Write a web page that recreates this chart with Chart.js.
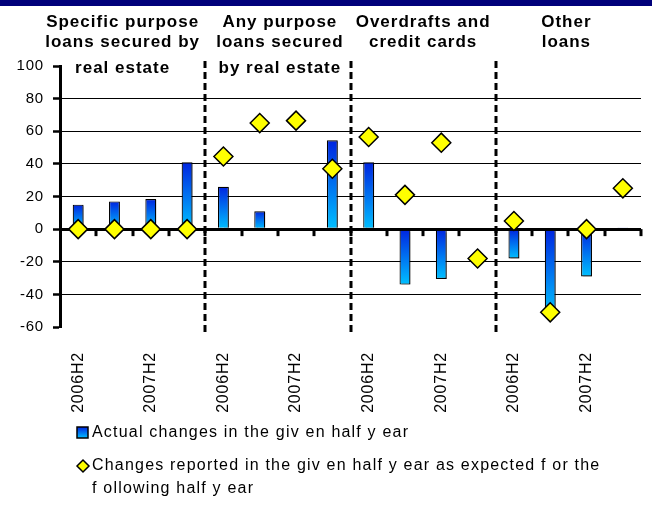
<!DOCTYPE html>
<html>
<head>
<meta charset="utf-8">
<script src="https://cdn.jsdelivr.net/npm/chart.js@4.4.0/dist/chart.umd.min.js"></script>
<style>
  html, body { margin: 0; padding: 0; background: #fff; }
  #wrap { width: 652px; height: 529px; position: relative; }
</style>
</head>
<body>
<div id="wrap"><canvas id="chart"></canvas></div>
<script>
// data
const periods = ['2006H2', '2007H1', '2007H2', '2008H1'];
const groupTitles = [
    ['Specific purpose', 'loans secured by', 'real estate'],
    ['Any purpose', 'loans secured', 'by real estate'],
    ['Overdrafts and', 'credit cards'],
    ['Other', 'loans']
];
const categories = groupTitles.flatMap(() => periods);
const actualChanges = [15, 17, 18.5, 41, 26, 11, null, 54.5, 41, -34, -30.5, null, -18, -52, -29, 1];
const expectedChanges = [0, 0, 0, 0, 44.5, 65, 66.5, 37, 56.5, 21, 53, -18, 5, -51, 0, 25];
const yTicks = [-60, -40, -20, 0, 20, 40, 60, 80, 100];
const seriesNames = [
    ['Actual changes in the giv en half y ear'],
    ['Changes reported in the giv en half y ear as expected f or the', 'f ollowing half y ear']
];

const FONT = '"Liberation Sans", Arial, sans-serif';
const darkBlue = '#0024e0';
const lightBlue = '#00c0ff';
const diamondYellow = '#ffff00';

function barGradient(ctx, top, bottom) {
    const g = ctx.createLinearGradient(0, top, 0, bottom);
    g.addColorStop(0, darkBlue);
    g.addColorStop(1, lightBlue);
    return g;
}

// header strip, separators, group titles, legend
const decor = {
    id: 'decor',
    beforeDraw(chart) {
        const ctx = chart.ctx;
        ctx.save();
        ctx.fillStyle = '#00007a';
        ctx.fillRect(0, 0, chart.width, 6);
        ctx.restore();
        // the original text is set a little wide
        ctx.letterSpacing = '0.8px';
    },
    beforeDatasetsDraw(chart) {
        const { ctx, chartArea } = chart;
        const x = chart.scales.x, y = chart.scales.y;
        const step = x.width / categories.length;
        const y0 = y.getPixelForValue(0);
        ctx.save();
        ctx.strokeStyle = '#000';
        // small ticks under the zero line
        ctx.lineWidth = 3;
        for (let i = 1; i <= categories.length; i++) {
            const px = Math.round(x.left + i * step);
            ctx.beginPath();
            ctx.moveTo(px, y0);
            ctx.lineTo(px, y0 + 7);
            ctx.stroke();
        }
        // dashed group separators
        ctx.setLineDash([7, 4]);
        for (let g = 1; g < groupTitles.length; g++) {
            const px = Math.round(x.left + g * periods.length * step);
            ctx.beginPath();
            ctx.moveTo(px, chartArea.top - 5);
            ctx.lineTo(px, chartArea.bottom + 6);
            ctx.stroke();
        }
        ctx.restore();
    },
    beforeDatasetDraw(chart, args) {
        if (args.index === 1) {
            const ctx = chart.ctx;
            ctx.shadowColor = 'rgba(0,0,0,0.35)';
            ctx.shadowOffsetX = 2;
            ctx.shadowOffsetY = 1;
            ctx.shadowBlur = 1;
        }
    },
    afterDatasetDraw(chart, args) {
        if (args.index === 1) {
            const ctx = chart.ctx;
            ctx.shadowColor = 'rgba(0,0,0,0)';
            ctx.shadowOffsetX = 0;
            ctx.shadowOffsetY = 0;
            ctx.shadowBlur = 0;
        }
    },
    afterDraw(chart) {
        const ctx = chart.ctx;
        const x = chart.scales.x;
        const step = x.width / categories.length;
        const lineY = [27, 47, 73];
        const shift = [-10, 2, 0, -2];

        ctx.save();
        ctx.fillStyle = '#000';
        ctx.font = 'bold 17px ' + FONT;
        ctx.letterSpacing = '1px';
        ctx.textAlign = 'center';
        ctx.textBaseline = 'alphabetic';
        groupTitles.forEach((lines, g) => {
            const cx = x.left + (g + 0.5) * periods.length * step + shift[g];
            lines.forEach((t, i) => ctx.fillText(t, cx, lineY[i]));
        });

        // legend
        ctx.font = '16px ' + FONT;
        ctx.letterSpacing = '1.2px';
        ctx.textAlign = 'left';
        ctx.textBaseline = 'middle';
        ctx.lineWidth = 1.5;
        ctx.strokeStyle = '#000';

        ctx.fillStyle = barGradient(ctx, 427, 438);
        ctx.fillRect(77, 427, 11, 11);
        ctx.strokeRect(77, 427, 11, 11);
        ctx.fillStyle = '#000';
        seriesNames[0].forEach((t, i) => ctx.fillText(t, 92, 433 + i * 23));

        ctx.beginPath();
        ctx.moveTo(77, 466);
        ctx.lineTo(83, 460);
        ctx.lineTo(89, 466);
        ctx.lineTo(83, 472);
        ctx.closePath();
        ctx.fillStyle = diamondYellow;
        ctx.fill();
        ctx.stroke();
        ctx.fillStyle = '#000';
        seriesNames[1].forEach((t, i) => ctx.fillText(t, 92, 466 + i * 23));
        ctx.restore();
    }
};

new Chart(document.getElementById('chart').getContext('2d'), {
    type: 'bar',
    data: {
        labels: categories,
        datasets: [{
            type: 'line',
            label: seriesNames[1].join(' '),
            data: expectedChanges,
            showLine: false,
            pointStyle: 'rectRot',
            pointRadius: 9.5,
            pointBackgroundColor: diamondYellow,
            pointBorderColor: '#000',
            pointBorderWidth: 1.5,
            order: 0
        }, {
            label: seriesNames[0].join(' '),
            data: actualChanges,
            barPercentage: 0.3,
            categoryPercentage: 1,
            borderColor: '#000',
            borderWidth: 1.2,
            backgroundColor: (c) => {
                const chart = c.chart;
                const y = chart.scales.y;
                if (!chart.chartArea || !y || c.raw == null) return darkBlue;
                const top = y.getPixelForValue(Math.max(c.raw, 0));
                const bottom = y.getPixelForValue(Math.min(c.raw, 0));
                return barGradient(chart.ctx, top, bottom);
            },
            order: 1
        }]
    },
    options: {
        responsive: true,
        maintainAspectRatio: false,
        animation: false,
        layout: { padding: { top: 66, right: 8, bottom: 112, left: 0 } },
        plugins: {
            legend: { display: false },
            tooltip: { enabled: false }
        },
        scales: {
            x: {
                grid: { display: false, drawTicks: false },
                border: { display: false },
                ticks: {
                    autoSkip: false,
                    minRotation: 90,
                    maxRotation: 90,
                    padding: 25,
                    color: '#000',
                    font: { family: FONT, size: 16 },
                    callback: (v, i) => (i % 2 === 0 ? categories[i] : '')
                },
                afterFit: (s) => {
                    s.height = 90;
                    s.paddingLeft = 0;
                    s.paddingRight = 0;
                }
            },
            y: {
                min: yTicks[0],
                max: yTicks[yTicks.length - 1],
                afterBuildTicks: (s) => { s.ticks = yTicks.map(v => ({ value: v })); },
                grid: {
                    color: (c) => (c.tick.value === 100 || c.tick.value === -60) ? 'rgba(0,0,0,0)' : '#000',
                    lineWidth: (c) => (c.tick.value === 0 ? 3 : 1),
                    tickColor: '#000',
                    tickWidth: 2.5,
                    tickLength: 7
                },
                border: { color: '#000', width: 3 },
                ticks: {
                    padding: 9,
                    color: '#000',
                    font: { family: FONT, size: 15 }
                },
                afterFit: (s) => { s.width = 60; }
            }
        }
    },
    plugins: [decor]
});
</script>
</body>
</html>
